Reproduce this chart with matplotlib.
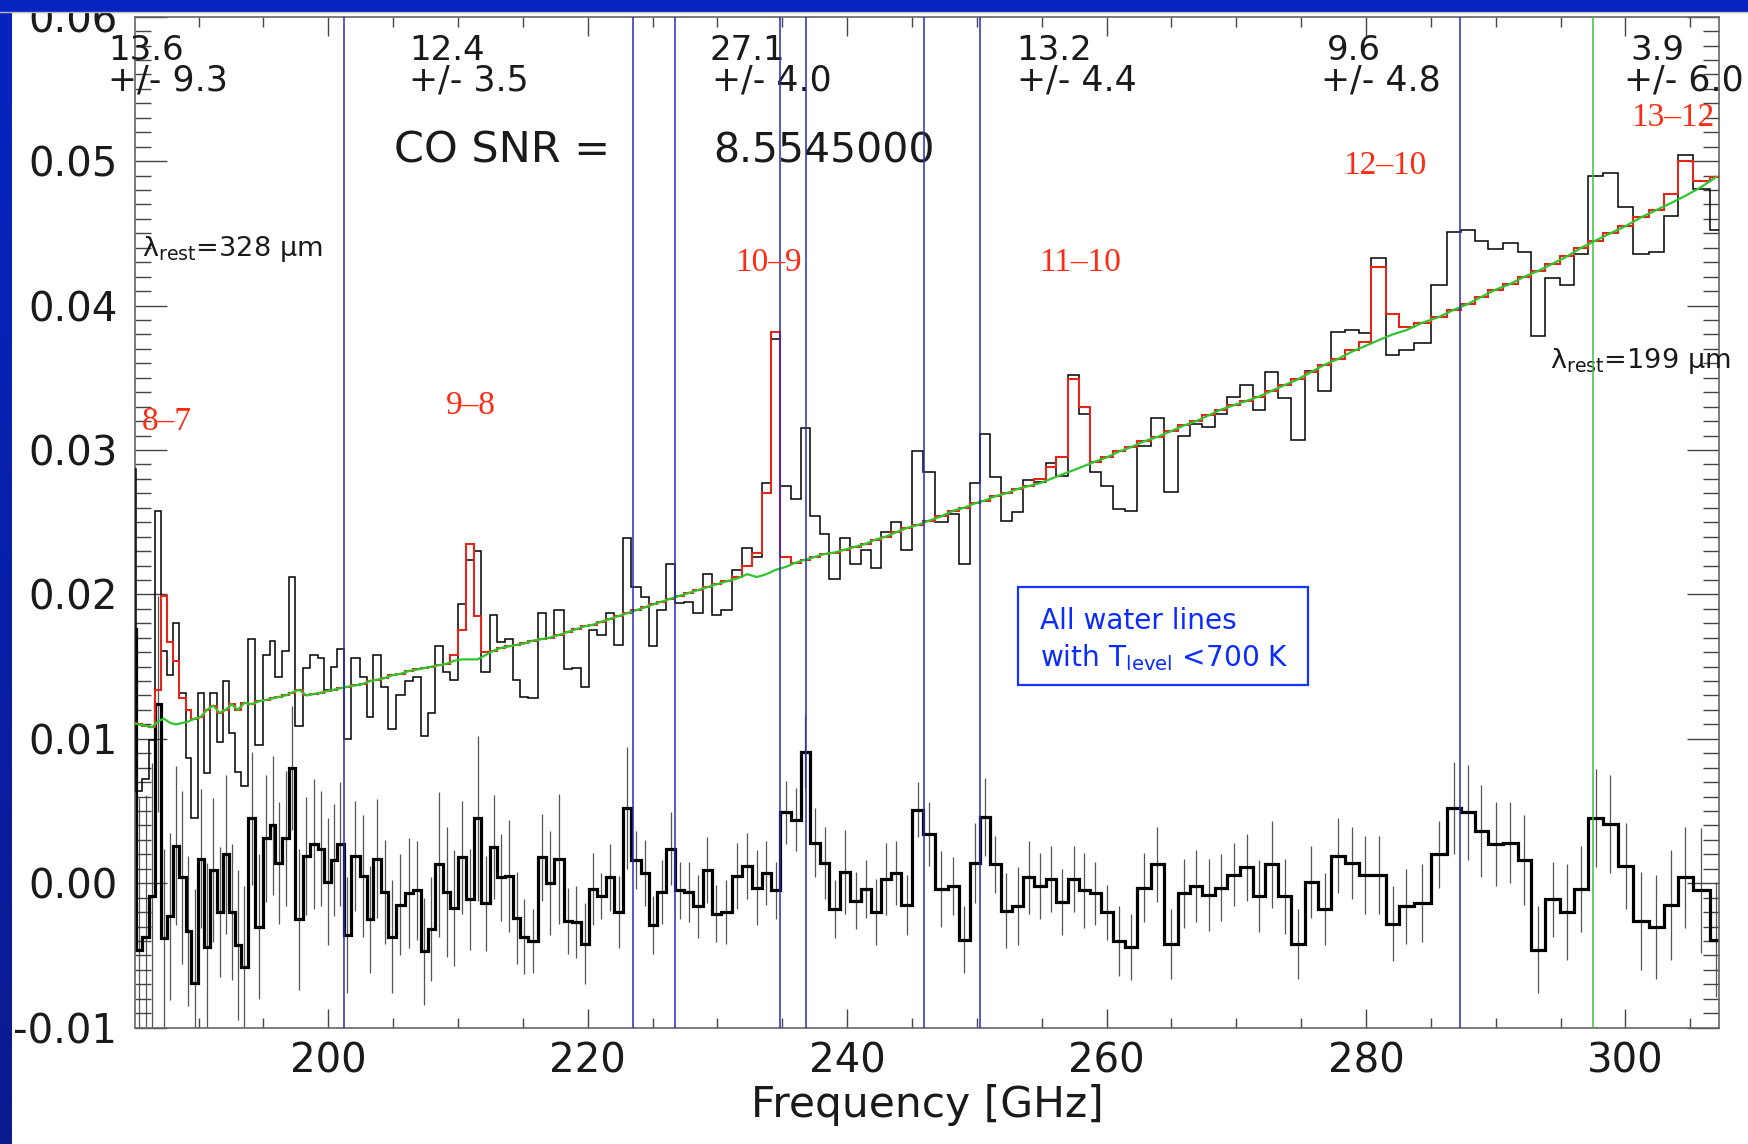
import matplotlib.pyplot as plt
import numpy as np
from matplotlib.patches import Rectangle
from matplotlib.ticker import MultipleLocator, FormatStrFormatter

plt.rcParams['font.family'] = ['DejaVu Sans']
plt.rcParams['axes.unicode_minus'] = False
plt.rcParams['mathtext.fontset'] = 'custom'
plt.rcParams['mathtext.rm'] = 'DejaVu Sans'
plt.rcParams['mathtext.it'] = 'DejaVu Sans'
plt.rcParams['mathtext.default'] = 'regular'

# channel edges [GHz]
chan_edges = [184.60, 185.15, 185.66, 186.19, 186.63, 187.07, 187.57, 188.05, 188.49, 188.99,
              189.44, 189.94, 190.38, 190.88, 191.38, 191.85, 192.33, 192.77, 193.27, 193.80,
              194.36, 194.98, 195.48, 195.92, 196.45, 196.95, 197.46, 198.05, 198.58, 199.17,
              199.70, 200.20, 200.68, 201.18, 201.77, 202.41, 202.95, 203.48, 204.07, 204.63,
              205.22, 205.90, 206.55, 207.14, 207.67, 208.23, 208.85, 209.38, 210.00, 210.59,
              211.21, 211.80, 212.45, 213.04, 213.63, 214.25, 214.81, 215.40, 216.14, 216.75,
              217.41, 218.17, 218.79, 219.47, 220.12, 220.69, 221.37, 222.04, 222.75, 223.37,
              224.08, 224.70, 225.35, 226.03, 226.73, 227.42, 228.15, 228.89, 229.57, 230.28,
              231.10, 231.93, 232.67, 233.40, 234.14, 234.85, 235.67, 236.41, 237.15, 237.89,
              238.63, 239.42, 240.25, 241.05, 241.81, 242.61, 243.35, 244.17, 245.03, 245.85,
              246.74, 247.77, 248.60, 249.45, 250.22, 251.02, 251.84, 252.70, 253.59, 254.41,
              255.30, 256.12, 257.01, 257.89, 258.69, 259.58, 260.52, 261.43, 262.37, 263.40,
              264.43, 265.50, 266.44, 267.38, 268.35, 269.32, 270.32, 271.30, 272.24, 273.24,
              274.24, 275.27, 276.31, 277.31, 278.37, 279.43, 280.42, 281.52, 282.57, 283.67,
              284.99, 286.23, 287.29, 288.38, 289.41, 290.59, 291.68, 292.74, 293.82, 294.95,
              296.04, 297.15, 298.24, 299.42, 300.60, 301.78, 302.95, 304.08, 305.17, 306.49,
              307.50]

# observed spectrum (thin black)
flux = [0.0287, 0.0064, 0.0072, 0.0099, 0.0258, 0.0161, 0.0144, 0.0180, 0.0132, 0.0087,
        0.0045, 0.0132, 0.0076, 0.0132, 0.0098, 0.0140, 0.0104, 0.0077, 0.0067, 0.0169,
        0.0096, 0.0158, 0.0168, 0.0143, 0.0161, 0.0212, 0.0109, 0.0149, 0.0158, 0.0156,
        0.0134, 0.0150, 0.0162, 0.0100, 0.0156, 0.0143, 0.0115, 0.0158, 0.0136, 0.0107,
        0.0130, 0.0140, 0.0143, 0.0102, 0.0118, 0.0164, 0.0146, 0.0141, 0.0193, 0.0224,
        0.0230, 0.0146, 0.0186, 0.0167, 0.0169, 0.0141, 0.0129, 0.0128, 0.0187, 0.0170,
        0.0189, 0.0148, 0.0149, 0.0136, 0.0175, 0.0172, 0.0187, 0.0165, 0.0239, 0.0205,
        0.0198, 0.0164, 0.0189, 0.0221, 0.0194, 0.0195, 0.0187, 0.0214, 0.0186, 0.0189,
        0.0217, 0.0232, 0.0226, 0.0277, 0.0377, 0.0275, 0.0266, 0.0315, 0.0254, 0.0242,
        0.0211, 0.0239, 0.0221, 0.0231, 0.0218, 0.0243, 0.0250, 0.0231, 0.0299, 0.0285,
        0.0250, 0.0256, 0.0221, 0.0277, 0.0311, 0.0281, 0.0251, 0.0257, 0.0279, 0.0278,
        0.0291, 0.0282, 0.0352, 0.0325, 0.0285, 0.0275, 0.0259, 0.0258, 0.0303, 0.0322,
        0.0271, 0.0310, 0.0318, 0.0316, 0.0325, 0.0337, 0.0345, 0.0328, 0.0354, 0.0336,
        0.0307, 0.0355, 0.0341, 0.0382, 0.0383, 0.0381, 0.0433, 0.0366, 0.0369, 0.0374,
        0.0414, 0.0451, 0.0452, 0.0445, 0.0439, 0.0443, 0.0437, 0.0379, 0.0419, 0.0414,
        0.0436, 0.0490, 0.0492, 0.0468, 0.0436, 0.0437, 0.0462, 0.0504, 0.0481, 0.0452]

# continuum fit (green)
continuum = [0.0111, 0.0110, 0.0109, 0.0108, 0.0112, 0.0114, 0.0111, 0.0110, 0.0111, 0.0112,
             0.0114, 0.0115, 0.0120, 0.0123, 0.0118, 0.0120, 0.0124, 0.0120, 0.0125, 0.0124,
             0.0126, 0.0127, 0.0128, 0.0129, 0.0130, 0.0132, 0.0134, 0.0130, 0.0131, 0.0132,
             0.0133, 0.0134, 0.0135, 0.0136, 0.0137, 0.0138, 0.0140, 0.0141, 0.0142, 0.0144,
             0.0145, 0.0147, 0.0148, 0.0149, 0.0150, 0.0151, 0.0152, 0.0154, 0.0155, 0.0155,
             0.0155, 0.0158, 0.0161, 0.0163, 0.0164, 0.0165, 0.0166, 0.0168, 0.0169, 0.0170,
             0.0172, 0.0174, 0.0176, 0.0178, 0.0179, 0.0181, 0.0183, 0.0185, 0.0187, 0.0189,
             0.0191, 0.0193, 0.0195, 0.0197, 0.0199, 0.0201, 0.0203, 0.0205, 0.0207, 0.0209,
             0.0211, 0.0214, 0.0212, 0.0214, 0.0217, 0.0219, 0.0222, 0.0224, 0.0226, 0.0228,
             0.0229, 0.0231, 0.0233, 0.0235, 0.0238, 0.0240, 0.0243, 0.0246, 0.0248, 0.0251,
             0.0254, 0.0258, 0.0260, 0.0263, 0.0265, 0.0268, 0.0270, 0.0273, 0.0275, 0.0277,
             0.0280, 0.0283, 0.0286, 0.0289, 0.0292, 0.0295, 0.0299, 0.0302, 0.0306, 0.0309,
             0.0313, 0.0317, 0.0320, 0.0324, 0.0328, 0.0331, 0.0334, 0.0337, 0.0341, 0.0345,
             0.0349, 0.0354, 0.0359, 0.0363, 0.0368, 0.0372, 0.0376, 0.0380, 0.0383, 0.0388,
             0.0392, 0.0397, 0.0401, 0.0406, 0.0411, 0.0415, 0.0420, 0.0424, 0.0429, 0.0434,
             0.0440, 0.0445, 0.0450, 0.0455, 0.0461, 0.0466, 0.0471, 0.0476, 0.0482, 0.0489]

# channels where the CO model (red) rises above the continuum
co_bins = [4, 5, 6, 7, 8, 9, 47, 48, 49, 50, 51, 80, 81, 82, 83, 84, 85,
           109, 110, 111, 112, 113, 134, 135, 136, 137, 138, 156, 157, 158]
co_model = [0.0134, 0.0199, 0.0167, 0.0154, 0.0128, 0.0120, 0.0158, 0.0175, 0.0235, 0.0185,
            0.0160, 0.0212, 0.0220, 0.0229, 0.0270, 0.0382, 0.0226, 0.0280, 0.0288, 0.0295,
            0.0349, 0.0330, 0.0369, 0.0375, 0.0427, 0.0394, 0.0385, 0.0477, 0.0500, 0.0486]

# residual spectrum (thick black) and its errors
resid = [0.0176, -0.0046, -0.0037, -0.0009, 0.0124, -0.0038, -0.0023, 0.0026, 0.0004, -0.0033,
         -0.0069, 0.0017, -0.0044, 0.0009, -0.0020, 0.0020, -0.0020, -0.0043, -0.0058, 0.0045,
         -0.0030, 0.0031, 0.0040, 0.0014, 0.0031, 0.0080, -0.0025, 0.0019, 0.0027, 0.0024,
         0.0001, 0.0016, 0.0027, -0.0036, 0.0019, 0.0005, -0.0025, 0.0017, -0.0006, -0.0037,
         -0.0015, -0.0007, -0.0005, -0.0047, -0.0032, 0.0013, -0.0006, -0.0017, 0.0018, -0.0011,
         0.0045, -0.0014, 0.0025, 0.0004, 0.0005, -0.0024, -0.0037, -0.0040, 0.0018, 0.0000,
         0.0017, -0.0026, -0.0027, -0.0042, -0.0004, -0.0009, 0.0004, -0.0020, 0.0052, 0.0016,
         0.0007, -0.0029, -0.0006, 0.0024, -0.0005, -0.0006, -0.0016, 0.0009, -0.0021, -0.0020,
         0.0005, 0.0012, -0.0003, 0.0007, -0.0005, 0.0049, 0.0044, 0.0091, 0.0028, 0.0014,
         -0.0018, 0.0008, -0.0012, -0.0004, -0.0020, 0.0003, 0.0007, -0.0015, 0.0051, 0.0034,
         -0.0004, -0.0002, -0.0039, 0.0014, 0.0046, 0.0013, -0.0019, -0.0016, 0.0004, -0.0002,
         0.0003, -0.0013, 0.0003, -0.0005, -0.0007, -0.0020, -0.0040, -0.0044, -0.0003, 0.0013,
         -0.0042, -0.0007, -0.0002, -0.0008, -0.0003, 0.0006, 0.0011, -0.0009, 0.0013, -0.0009,
         -0.0042, 0.0001, -0.0018, 0.0019, 0.0014, 0.0006, 0.0006, -0.0028, -0.0016, -0.0014,
         0.0020, 0.0052, 0.0049, 0.0036, 0.0027, 0.0028, 0.0016, -0.0046, -0.0011, -0.0020,
         -0.0004, 0.0045, 0.0041, 0.0012, -0.0026, -0.0030, -0.0015, 0.0004, -0.0005, -0.0039]

resid_err = [0.0100, 0.0105, 0.0098, 0.0092, 0.0075, 0.0062, 0.0058, 0.0055, 0.0060, 0.0052,
             0.0065, 0.0048, 0.0058, 0.0050, 0.0045, 0.0055, 0.0047, 0.0052, 0.0056, 0.0046,
             0.0050, 0.0044, 0.0048, 0.0042, 0.0047, 0.0043, 0.0049, 0.0041, 0.0045, 0.0040,
             0.0044, 0.0039, 0.0043, 0.0040, 0.0038, 0.0042, 0.0037, 0.0041, 0.0036, 0.0039,
             0.0035, 0.0038, 0.0034, 0.0037, 0.0036, 0.0050, 0.0045, 0.0040, 0.0039, 0.0035,
             0.0057, 0.0033, 0.0036, 0.0030, 0.0039, 0.0032, 0.0026, 0.0022, 0.0030, 0.0036,
             0.0045, 0.0023, 0.0025, 0.0028, 0.0025, 0.0016, 0.0023, 0.0025, 0.0042, 0.0020,
             0.0023, 0.0020, 0.0022, 0.0025, 0.0020, 0.0021, 0.0022, 0.0023, 0.0020, 0.0022,
             0.0023, 0.0023, 0.0026, 0.0022, 0.0020, 0.0022, 0.0022, 0.0025, 0.0024, 0.0025,
             0.0020, 0.0029, 0.0020, 0.0020, 0.0023, 0.0025, 0.0022, 0.0021, 0.0019, 0.0022,
             0.0026, 0.0020, 0.0023, 0.0028, 0.0027, 0.0020, 0.0026, 0.0027, 0.0025, 0.0023,
             0.0023, 0.0023, 0.0023, 0.0026, 0.0022, 0.0019, 0.0024, 0.0023, 0.0024, 0.0026,
             0.0024, 0.0024, 0.0025, 0.0025, 0.0023, 0.0022, 0.0023, 0.0025, 0.0030, 0.0026,
             0.0024, 0.0025, 0.0025, 0.0026, 0.0025, 0.0027, 0.0027, 0.0026, 0.0026, 0.0027,
             0.0023, 0.0032, 0.0033, 0.0032, 0.0029, 0.0028, 0.0031, 0.0030, 0.0026, 0.0033,
             0.0030, 0.0034, 0.0034, 0.0030, 0.0034, 0.0036, 0.0038, 0.0035, 0.0043, 0.0040]

water_lines = [201.18, 223.49, 226.73, 234.85, 236.82, 245.93, 250.21, 287.24]
water_green = 297.51

snr_vals = ['13.6', '12.4', '27.1', '13.2', '9.6', '3.9']
snr_errs = ['9.3', '3.5', '4.0', '4.4', '4.8', '6.0']
co_labels = ['8–7', '9–8', '10–9', '11–10', '12–10', '13–12']

edges = np.array(chan_edges)
centers = 0.5 * (edges[:-1] + edges[1:])
model = np.array(continuum)
model[co_bins] = co_model

fig = plt.figure(figsize=(17.49, 11.44), dpi=100)

# blue slide frame
fig.patches.append(Rectangle((0, 1 - 11 / 1144), 1, 11 / 1144, transform=fig.transFigure,
                             color='#0524c2', zorder=0))
fig.add_artist(plt.Line2D([0, 1], [1 - 12 / 1144] * 2, transform=fig.transFigure,
                          color='#bbbbbb', lw=1))
bar = fig.add_axes([0, 0, 12 / 1749, 1 - 11 / 1144])
bar.imshow(np.linspace(0, 1, 256).reshape(-1, 1), aspect='auto',
           cmap=plt.matplotlib.colors.LinearSegmentedColormap.from_list('b', ['#0524c2', '#0b1a8e']))
bar.axis('off')

ax = fig.add_axes([0.0770, 0.1017, 0.9059, 0.8837])

ax.errorbar(centers, resid, yerr=resid_err, fmt='none', ecolor='#555555', elinewidth=0.9, zorder=1)
ax.stairs(resid, edges, baseline=None, color='black', lw=2.3, zorder=2)
ax.stairs(flux, edges, baseline=None, color='black', lw=1.1, zorder=3)
ax.stairs(model, edges, baseline=None, color='#e3261a', lw=1.5, zorder=4)
ax.plot(centers, continuum, color='#2fc52f', lw=1.6, zorder=5)
for f in water_lines:
    ax.axvline(f, color='#2a2abf', lw=1.1, zorder=6)
ax.axvline(water_green, color='#3cc23c', lw=1.1, zorder=6)

ax.set_xlim(185.07, 307.22)
ax.set_ylim(-0.01, 0.06)

ax.xaxis.set_major_locator(MultipleLocator(20))
ax.xaxis.set_minor_locator(MultipleLocator(5))
ax.yaxis.set_major_locator(MultipleLocator(0.01))
ax.yaxis.set_minor_locator(MultipleLocator(0.001))
ax.yaxis.set_major_formatter(FormatStrFormatter('%.2f'))
ax.tick_params(which='both', direction='in', top=True, right=True, color='#444444', width=1,
               labelsize=29, labelcolor='#1a1a1a')
ax.tick_params(axis='x', which='major', length=14, pad=10)
ax.tick_params(axis='x', which='minor', length=7)
ax.tick_params(axis='y', which='major', length=23, pad=12.5)
ax.tick_params(axis='y', which='minor', length=11.5)
for s in ax.spines.values():
    s.set_color('#666666')
    s.set_linewidth(1.2)
ax.set_xlabel('Frequency [GHz]', fontsize=30.5, color='#1a1a1a', labelpad=2)

txt = dict(color='#1a1a1a', ha='left', va='baseline')
snr_x = [183.0, 206.2, 229.4, 253.0, 277.0, 300.4]
err_x = [183.0, 206.2, 229.6, 253.1, 276.5, 299.9]
for xs, xe, v, e in zip(snr_x, err_x, snr_vals, snr_errs):
    ax.text(xs, 0.0570, v, fontsize=24.5, **txt)
    ax.text(xe, 0.0549, '+/- ' + e, fontsize=25, **txt)

ax.text(205.07, 0.0499, 'CO SNR =', fontsize=31, **txt)
ax.text(229.7, 0.0499, '8.5545000', fontsize=29.5, **txt)

co_pos = [(185.6, 0.03135), (209.07, 0.0325), (231.33, 0.0424),
          (254.8, 0.0424), (278.2, 0.0491), (300.4, 0.0524)]
for (x, y), lab in zip(co_pos, co_labels):
    ax.text(x, y, lab, fontsize=24, color='#ff2a12', family='Liberation Serif',
            ha='left', va='baseline', zorder=8)

ax.text(185.67, 0.0434, 'λ$_{\\rm rest}$=328 μm', fontsize=19.5, **txt)
ax.text(294.2, 0.0357, 'λ$_{\\rm rest}$=199 μm', fontsize=19.5, **txt)

ax.add_patch(Rectangle((253.2, 0.01375), 22.3, 0.00675, fill=False, edgecolor='#1236ff',
                       lw=1.6, zorder=7))
ax.text(254.9, 0.01763, 'All water lines', fontsize=20.2, color='#0a2cff', ha='left', va='baseline')
ax.text(254.9, 0.0150, 'with T$_{\\rm level}$ <700 K', fontsize=20.2, color='#0a2cff',
        ha='left', va='baseline')

fig.savefig('out.png', dpi=100)
